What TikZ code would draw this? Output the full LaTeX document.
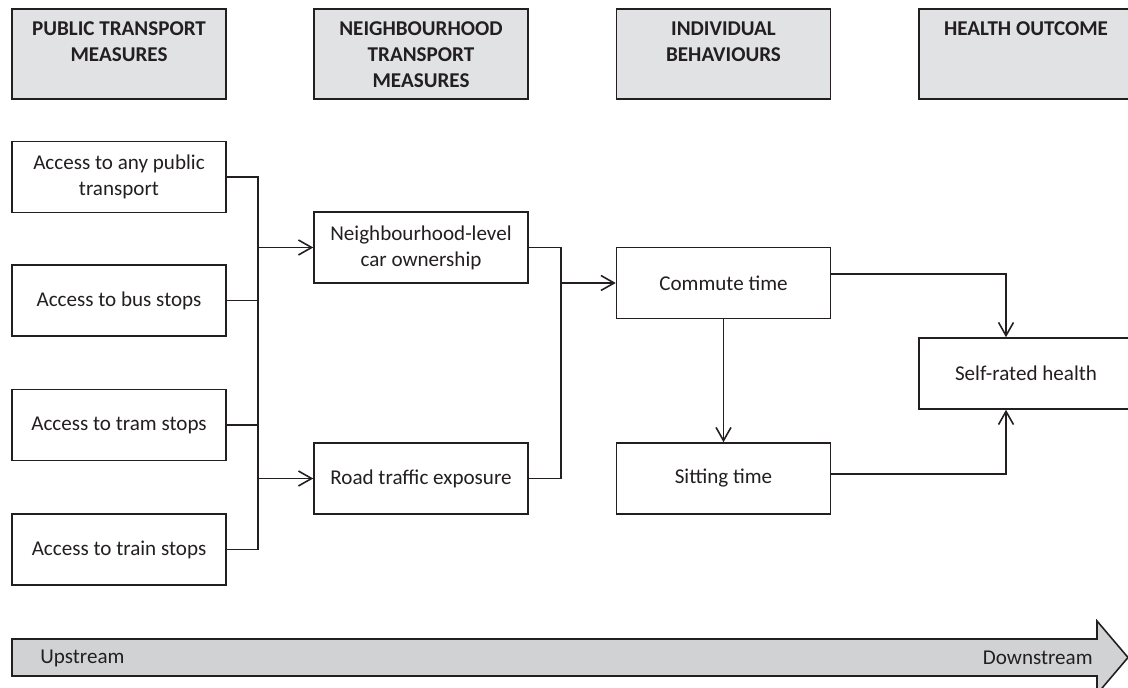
\documentclass[tikz,border=0pt]{standalone}
\usepackage{fontspec}
\setmainfont{Carlito}
\usetikzlibrary{arrows.meta,positioning}
\definecolor{hdrgray}{HTML}{E1E2E4}
\definecolor{bandgray}{HTML}{D1D2D4}
\definecolor{ink}{HTML}{231F20}
\tikzset{
  box/.style={draw=ink, line width=0.9pt, minimum width=4.28cm,
    minimum height=1.42cm, align=center, inner sep=0pt,
    font=\fontsize{12}{14.7}\selectfont, text=ink},
  hdr/.style={box, fill=hdrgray, minimum height=1.8cm},
  hdrtxt/.style={align=center, inner sep=0pt,
    font=\bfseries\fontsize{12}{14.7}\selectfont, text=ink},
  lbl/.style={inner sep=0pt, font=\fontsize{12}{14.7}\selectfont, text=ink},
  link/.style={draw=ink, line width=0.9pt}}

\begin{document}
\begin{tikzpicture}[x=0.02cm, y=-0.02cm, >={Straight Barb[length=7.5pt,width=8.5pt]}]
  \useasboundingbox (0,0) rectangle (1128,688);
  % column headings
  \node[hdr] (h1) at (119,54) {};
  \node[hdr] (h2) at (421,54) {};
  \node[hdr] (h3) at (723.5,54) {};
  \node[hdr] (h4) at (1026,54) {};
  \node[hdrtxt, below=0.26cm of h1.north] (h1t) {PUBLIC TRANSPORT\\MEASURES};
  \node[hdrtxt, below=0.26cm of h2.north] (h2t) {NEIGHBOURHOOD\\TRANSPORT\\MEASURES};
  \node[hdrtxt, below=0.26cm of h3.north] (h3t) {INDIVIDUAL\\BEHAVIOURS};
  \node[hdrtxt, below=0.26cm of h4.north] (h4t) {HEALTH OUTCOME};
  % boxes
  \node[box] (a1) at (119,177)   {Access to any public\\transport};
  \node[box] (a2) at (119,300.5) {Access to bus stops};
  \node[box] (a3) at (119,425)   {Access to tram stops};
  \node[box] (a4) at (119,549.5) {Access to train stops};
  \node[box] (n1) at (421,247.5) {Neighbourhood-level\\car ownership};
  \node[box] (n2) at (421,478.5) {Road traffic exposure};
  \node[box] (b1) at (723.5,283) {Commute time};
  \node[box] (b2) at (723.5,478.5) {Sitting time};
  \node[box] (o1) at (1026,373.5) {Self-rated health};
  \coordinate (busl) at (258,0);
  \coordinate (busr) at (561,0);
  % connectors
  \draw[link] (a1.east) -- (a1.east -| busl) -- (a4.east -| busl) -- (a4.east);
  \draw[link] (a2.east) -- (a2.east -| busl);
  \draw[link] (a3.east) -- (a3.east -| busl);
  \draw[link, ->] (n1.west -| busl) -- (n1.west);
  \draw[link, ->] (n2.west -| busl) -- (n2.west);
  \draw[link] (n1.east) -- (n1.east -| busr) -- (n2.east -| busr) -- (n2.east);
  \draw[link, ->] (b1.west -| busr) -- (b1.west);
  \draw[link, ->] (b1) -- (b2);
  \draw[link, ->] ([yshift=0.18cm]b1.east) -| ([xshift=-0.4cm]o1.north);
  \draw[link, ->] ([yshift=0.09cm]b2.east) -| ([xshift=-0.4cm]o1.south);
  % upstream / downstream band
  \draw[link, fill=bandgray] (12,639) -- (1097,639) -- (1097,621)
    -- (1128,657.5) -- (1097,694) -- (1097,676) -- (12,676) -- cycle;
  \node[lbl, anchor=west] (up) at (40,658) {Upstream};
  \node[lbl, anchor=east] (down) at (1093,658) {Downstream};
\end{tikzpicture}
\end{document}
